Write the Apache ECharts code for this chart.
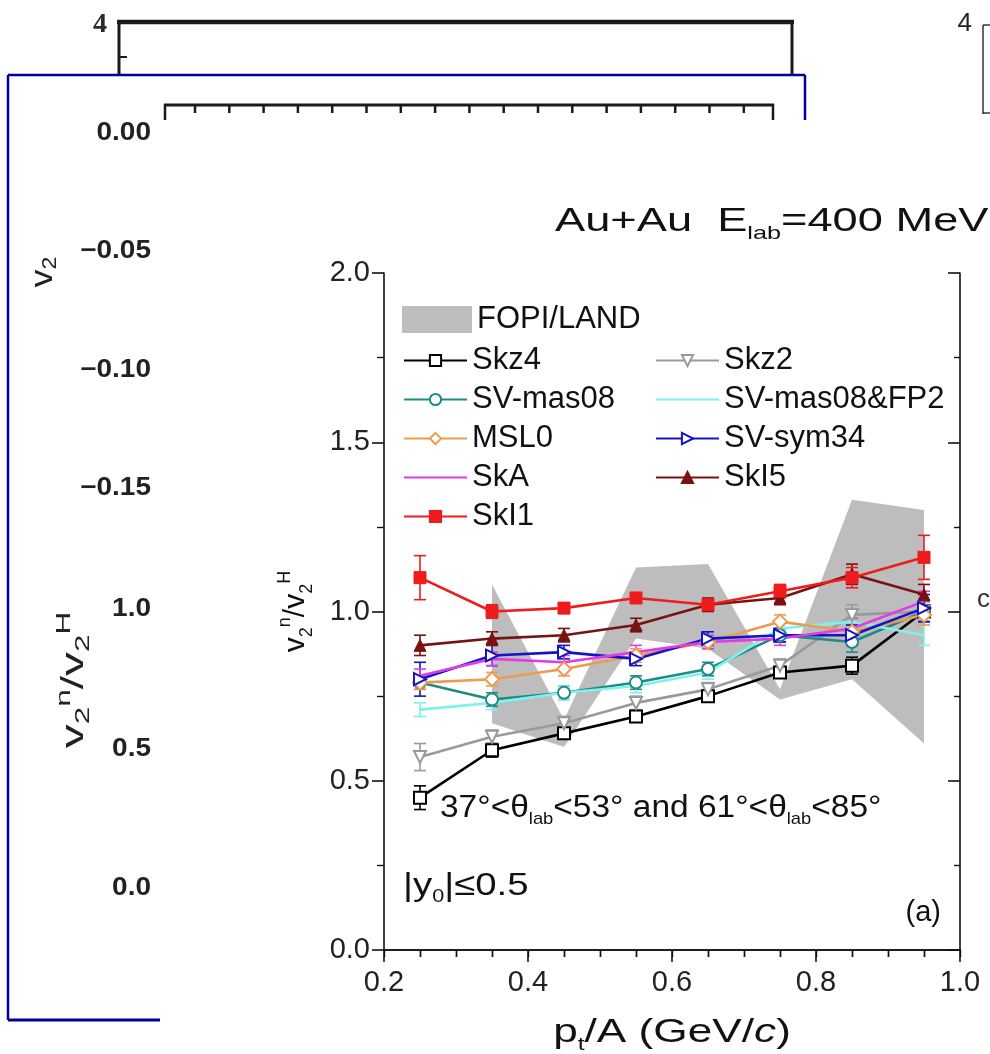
<!DOCTYPE html>
<html><head><meta charset="utf-8">
<script src="https://cdn.jsdelivr.net/npm/echarts@6/dist/echarts.min.js"></script>
<style>html,body{margin:0;padding:0;background:#fff}#c{width:990px;height:1054px}</style>
</head><body><div id="c"></div>
<script>
// ---- data ----
const ptA = [0.25, 0.35, 0.45, 0.55, 0.65, 0.75, 0.85, 0.95];
const skz4 = [0.45, 0.59, 0.64, 0.69, 0.75, 0.82, 0.84, 1.00];
const skz4Err = [0.035, 0.02, 0.015, 0.015, 0.015, 0.015, 0.025, 0.03];
const skz2 = [0.57, 0.63, 0.67, 0.73, 0.77, 0.84, 0.99, 1.00];
const skz2Err = [0.04, 0.02, 0.02, 0.02, 0.02, 0.02, 0.03, 0.03];
const svMas08 = [0.79, 0.74, 0.76, 0.79, 0.83, 0.93, 0.91, 1.00];
const svMas08Err = [0.02, 0.02, 0.02, 0.02, 0.02, 0.02, 0.03, 0.03];
const svMas08Fp2 = [0.71, 0.73, 0.76, 0.78, 0.82, 0.95, 0.97, 0.93];
const svMas08Fp2Err = [0.02, 0.02, 0.02, 0.02, 0.02, 0.02, 0.03, 0.03];
const msl0 = [0.79, 0.80, 0.83, 0.87, 0.91, 0.97, 0.94, 0.99];
const msl0Err = [0.02, 0.02, 0.02, 0.02, 0.02, 0.02, 0.03, 0.03];
const svSym34 = [0.80, 0.87, 0.88, 0.86, 0.92, 0.93, 0.93, 1.01];
const svSym34Err = [0.05, 0.03, 0.02, 0.02, 0.02, 0.02, 0.03, 0.04];
const skA = [0.81, 0.86, 0.85, 0.88, 0.91, 0.92, 0.95, 1.03];
const skAErr = [0.02, 0.02, 0.02, 0.02, 0.02, 0.02, 0.03, 0.03];
const skI5 = [0.90, 0.92, 0.93, 0.96, 1.02, 1.04, 1.11, 1.05];
const skI5Err = [0.03, 0.02, 0.02, 0.02, 0.02, 0.02, 0.03, 0.03];
const skI1 = [1.10, 1.00, 1.01, 1.04, 1.02, 1.06, 1.10, 1.16];
const skI1Err = [0.065, 0.02, 0.015, 0.015, 0.015, 0.02, 0.03, 0.065];
// FOPI/LAND band
const bandX = [0.35, 0.45, 0.55, 0.65, 0.75, 0.85, 0.95];
const bandHi = [1.08, 0.68, 1.13, 1.14, 0.77, 1.33, 1.30];
const bandLo = [0.67, 0.60, 0.92, 0.89, 0.74, 0.80, 0.61];
// axis ticks
const xMin = 0.2, xMax = 1.0, xStep = 0.2;
const yMin = 0.0, yMax = 2.0, yStep = 0.5;
// background fragment tick labels
const bgV2Ticks = ['0.00', '\u22120.05', '\u22120.10', '\u22120.15'];
const bgRatioTicks = ['1.0', '0.5', '0.0'];

const FONT = 'Liberation Sans, Arial, sans-serif';
const chart = echarts.init(document.getElementById('c'), null, {renderer: 'canvas'});

function lineSeries(name, vals, color, symbol, open, extra) {
  return Object.assign({
    type: 'line', name: name,
    data: ptA.map((x, i) => [x, vals[i]]),
    symbol: symbol, symbolSize: 12, showSymbol: symbol !== 'none',
    lineStyle: {color: color, width: 2.6},
    itemStyle: open ? {color: '#fff', borderColor: color, borderWidth: 2} : {color: color, borderColor: color, borderWidth: 1},
    color: color, z: 3
  }, extra || {});
}
function errSeries(name, vals, errs, color) {
  return {
    type: 'custom', name: name + ' err',
    data: ptA.map((x, i) => [x, vals[i] - errs[i], vals[i] + errs[i]]),
    encode: {x: 0, y: [1, 2]}, z: 3, silent: true,
    renderItem: function (params, api) {
      const x = api.value(0);
      const p1 = api.coord([x, api.value(1)]);
      const p2 = api.coord([x, api.value(2)]);
      const w = 6, st = {stroke: color, lineWidth: 1.6};
      return {type: 'group', children: [
        {type: 'line', shape: {x1: p1[0], y1: p1[1], x2: p2[0], y2: p2[1]}, style: st},
        {type: 'line', shape: {x1: p1[0] - w, y1: p1[1], x2: p1[0] + w, y2: p1[1]}, style: st},
        {type: 'line', shape: {x1: p2[0] - w, y1: p2[1], x2: p2[0] + w, y2: p2[1]}, style: st}
      ]};
    }
  };
}

const C = {
  skz4: '#000000', skz2: '#9a9a9a', mas: '#1e8c84', fp2: '#7ef2ee', msl: '#ee9a50',
  sym: '#1414c8', ska: '#e03ce6', ski5: '#7a1212', ski1: '#ee1c1c'
};

const series = [
  {
    type: 'custom', name: 'FOPI/LAND', data: [[bandX[0], bandHi[0]]], encode: {x: 0, y: 1},
    itemStyle: {color: '#bdbdbd'}, z: 1, silent: true,
    renderItem: function (params, api) {
      const pts = [];
      for (let i = 0; i < bandX.length; i++) pts.push(api.coord([bandX[i], bandHi[i]]));
      for (let i = bandX.length - 1; i >= 0; i--) pts.push(api.coord([bandX[i], bandLo[i]]));
      return {type: 'polygon', shape: {points: pts}, style: {fill: '#bdbdbd'}};
    }
  },
  errSeries('Skz4', skz4, skz4Err, C.skz4),
  lineSeries('Skz4', skz4, C.skz4, 'rect', true),
  errSeries('Skz2', skz2, skz2Err, C.skz2),
  lineSeries('Skz2', skz2, C.skz2, 'triangle', true, {symbolRotate: 180}),
  errSeries('SV-mas08', svMas08, svMas08Err, C.mas),
  lineSeries('SV-mas08', svMas08, C.mas, 'circle', true),
  errSeries('SV-mas08&FP2', svMas08Fp2, svMas08Fp2Err, C.fp2),
  lineSeries('SV-mas08&FP2', svMas08Fp2, C.fp2, 'none', false),
  errSeries('MSL0', msl0, msl0Err, C.msl),
  lineSeries('MSL0', msl0, C.msl, 'diamond', true, {symbolSize: 14}),
  errSeries('SV-sym34', svSym34, svSym34Err, C.sym),
  lineSeries('SV-sym34', svSym34, C.sym, 'triangle', true, {symbolRotate: -90}),
  errSeries('SkA', skA, skAErr, C.ska),
  lineSeries('SkA', skA, C.ska, 'none', false),
  errSeries('SkI5', skI5, skI5Err, C.ski5),
  lineSeries('SkI5', skI5, C.ski5, 'triangle', false),
  errSeries('SkI1', skI1, skI1Err, C.ski1),
  lineSeries('SkI1', skI1, C.ski1, 'rect', false)
];

const axLine = {lineStyle: {color: '#111', width: 1.6}};
const legendText = {fontSize: 31, color: '#111', fontFamily: FONT, lineHeight: 31};

// background collage fragments (decorative)
const bg = [];
const dark = '#1a1a1a', blue = '#00009c';
function L(x1, y1, x2, y2, c, w) { bg.push({type: 'line', shape: {x1, y1, x2, y2}, style: {stroke: c, lineWidth: w}, z: -10}); }
function T(x, y, text, o) { bg.push({type: 'text', x: x, y: y, rotation: (o && o.rot) || 0, scaleX: (o && o.sx) || 1, z: -10,
  style: Object.assign({text: text, fill: '#222', font: 'bold 25px ' + FONT, textAlign: 'right', textVerticalAlign: 'middle'}, (o && o.style) || {})}); }
// left black box
L(117, 22, 794, 22, dark, 4.5); L(119, 20, 119, 75, dark, 3); L(792, 20, 792, 75, dark, 3); L(119, 57, 127, 57, dark, 2);
T(107, 25, '4', {style: {font: 'bold 28px Liberation Serif, serif', textAlign: 'right', fill: '#2a2a2a'}});
// right box
L(983, 25, 983, 114, '#333', 1.5); L(983, 25, 990, 25, '#333', 1.5); L(983, 113, 990, 113, '#333', 1.5);
T(972, 24, '4', {style: {font: '26px ' + FONT, textAlign: 'right'}});
// blue box
L(8, 75, 805, 75, blue, 2.5); L(8, 75, 8, 1020, blue, 2.5); L(8, 1020, 160, 1020, blue, 3); L(805, 75, 805, 120, blue, 2.5);
// ruler
L(164, 105, 774, 105, dark, 3); L(165, 104, 165, 120, dark, 2.5); L(773, 104, 773, 120, dark, 2.5);
for (let k = 0; k < 17; k++) { const tx = 195 + k * 34.3; L(tx, 105, tx, 113, dark, 2.5); }
// fragment labels
const v2Y = [133, 251, 370, 488];
bgV2Ticks.forEach((t, i) => T(151, v2Y[i], t, {sx: 1.12}));
const ratioY = [609, 749, 888];
bgRatioTicks.forEach((t, i) => T(151, ratioY[i], t, {sx: 1.12}));
T(43, 272, '{a|v}{b|2}', {rot: Math.PI / 2, sx: 1.1, style: {textAlign: 'center', font: '30px ' + FONT,
  rich: {a: {fontSize: 32, fontFamily: FONT, fill: '#222', lineHeight: 36, verticalAlign: 'middle'}, b: {fontSize: 21, fontFamily: FONT, fill: '#222', lineHeight: 16, verticalAlign: 'bottom'}}}});
T(74, 680, '{a|v}{b|2}{c|n}{a|/v}{b|2}{c|H}', {rot: Math.PI / 2, sx: 1.5, style: {textAlign: 'center', font: '30px ' + FONT,
  rich: {a: {fontSize: 32, fontFamily: FONT, fill: '#222', lineHeight: 40, verticalAlign: 'middle'},
         b: {fontSize: 21, fontFamily: FONT, fill: '#222', lineHeight: 16, verticalAlign: 'bottom'},
         c: {fontSize: 21, fontFamily: FONT, fill: '#222', lineHeight: 16, verticalAlign: 'top'}}}});
T(990, 600, 'c', {style: {font: '26px ' + FONT, textAlign: 'right', fill: '#333'}});

// main chart annotations
const subRich = function (size) {
  return {t: {fontSize: size, fontFamily: FONT, fill: '#111', lineHeight: size + 8, verticalAlign: 'middle'},
          s: {fontSize: Math.round(size * 0.55), fontFamily: FONT, fill: '#111', lineHeight: 12, verticalAlign: 'bottom'},
          i: {fontSize: size, fontFamily: FONT, fontStyle: 'italic', fill: '#111', lineHeight: size + 8, verticalAlign: 'middle'}};
};
function A(x, y, text, size, align, sx) {
  bg.push({type: 'text', x: x, y: y, z: 10, scaleX: sx || 1,
    style: {text: text, textAlign: align, textVerticalAlign: 'middle', rich: subRich(size)}});
}
A(555, 222, '{t|Au+Au  E}{s|lab}{t|=400 MeV}', 34, 'left', 1.33);
A(440, 808, '{t|37\u00b0<\u03b8}{s|lab}{t|<53\u00b0 and 61\u00b0<\u03b8}{s|lab}{t|<85\u00b0}', 31, 'left', 1.08);
A(403, 886, '{t||y}{s|0}{t||\u22640.5}', 32, 'left', 1.2);
A(672, 1033, '{t|p}{s|t}{t|/A (GeV/}{i|c}{t|)}', 34, 'center', 1.3);
bg.push({type: 'text', x: 941, y: 913, z: 10, style: {text: '(a)', textAlign: 'right', textVerticalAlign: 'middle', font: '29px ' + FONT, fill: '#111'}});

const option = {
  animation: false,
  backgroundColor: '#fff',
  grid: {left: 384, right: 30, top: 273, bottom: 104, containLabel: false},
  legend: [
    {data: [{name: 'FOPI/LAND', icon: 'rect'}], left: 402, top: 304, padding: 0, itemWidth: 70, itemHeight: 27,
     textStyle: legendText, selectedMode: false},
    {data: ['Skz4', 'SV-mas08', 'MSL0', {name: 'SkA', itemStyle: {opacity: 0}}, 'SkI1'], orient: 'vertical', left: 403, top: 345, padding: 0,
     itemWidth: 63, itemHeight: 14, itemGap: 8, textStyle: legendText, selectedMode: false},
    {data: ['Skz2', {name: 'SV-mas08&FP2', itemStyle: {opacity: 0}}, 'SV-sym34', 'SkI5'], orient: 'vertical', left: 655, top: 345, padding: 0,
     itemWidth: 63, itemHeight: 14, itemGap: 8, textStyle: legendText, selectedMode: false}
  ],
  xAxis: [
    {type: 'value', min: xMin, max: xMax, interval: xStep, position: 'bottom',
     axisLine: axLine, splitLine: {show: false},
     axisTick: {show: true, inside: false, length: 12, lineStyle: {color: '#111', width: 1.6}},
     minorTick: {show: true, splitNumber: 4, length: 7, lineStyle: {color: '#111', width: 1.4}},
     axisLabel: {fontSize: 29, color: '#222', fontFamily: FONT, margin: 18, formatter: v => v.toFixed(1)}},
    {type: 'value', min: xMin, max: xMax, interval: xStep, position: 'top',
     axisLine: axLine, splitLine: {show: false},
     axisTick: {show: true, inside: true, length: 7, lineStyle: {color: '#111', width: 1.4}},
     minorTick: {show: true, splitNumber: 4, length: 7, lineStyle: {color: '#111', width: 1.4}},
     axisLabel: {show: false}}
  ],
  yAxis: [
    {type: 'value', min: yMin, max: yMax, interval: yStep, position: 'left',
     axisLine: axLine, splitLine: {show: false},
     axisTick: {show: true, inside: false, length: 12, lineStyle: {color: '#111', width: 1.6}},
     minorTick: {show: true, splitNumber: 2, length: 7, lineStyle: {color: '#111', width: 1.4}},
     axisLabel: {fontSize: 29, color: '#222', fontFamily: FONT, margin: 14, formatter: v => v.toFixed(1)},
     name: '{a|v}{b|2}{c|n}{a|/v}{b|2}{c|H}', nameLocation: 'middle', nameGap: 68, nameRotate: 90,
     nameTextStyle: {rich: {
       a: {fontSize: 30, fontFamily: FONT, color: '#111', lineHeight: 40, verticalAlign: 'middle'},
       b: {fontSize: 18, fontFamily: FONT, color: '#111', lineHeight: 14, verticalAlign: 'bottom'},
       c: {fontSize: 18, fontFamily: FONT, color: '#111', lineHeight: 14, verticalAlign: 'top'}}}},
    {type: 'value', min: yMin, max: yMax, interval: yStep, position: 'right',
     axisLine: axLine, splitLine: {show: false},
     axisTick: {show: true, inside: true, length: 12, lineStyle: {color: '#111', width: 1.6}},
     minorTick: {show: true, splitNumber: 2, length: 6, lineStyle: {color: '#111', width: 1.4}},
     axisLabel: {show: false}}
  ],
  graphic: {elements: bg},
  series: series
};
chart.setOption(option);
</script></body></html>
